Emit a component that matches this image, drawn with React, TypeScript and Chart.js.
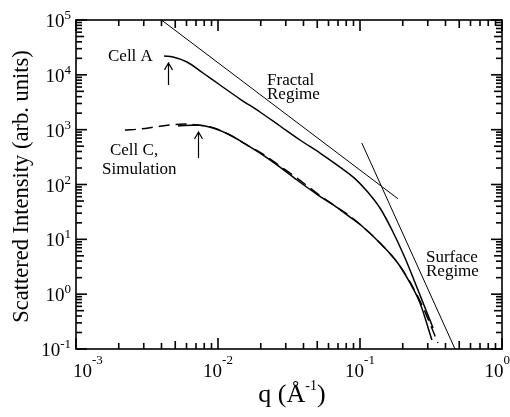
import React, { useEffect, useRef } from "react";
import { Chart, registerables } from "chart.js";

Chart.register(...registerables);

// ---------- data ----------
const cellAQ = [0.00417, 0.00482, 0.00605, 0.00784, 0.01033, 0.01429, 0.01976, 0.02733, 0.0378, 0.0523, 0.0723, 0.0922, 0.1138, 0.1383, 0.168, 0.2075, 0.256, 0.327];
const cellAI = [22000, 21100, 17140, 10800, 6523, 3624, 2100, 1166, 648, 375, 208, 128, 72, 37.3, 14.8, 4.56, 1.19, 0.241];

const cellCQ = [0.00523, 0.00711, 0.00922, 0.01215, 0.016, 0.02075, 0.02733, 0.036, 0.0506, 0.0667, 0.085, 0.105, 0.1383, 0.1822, 0.225, 0.2646, 0.321];
const cellCI = [1166, 1216, 1072, 799, 525, 345, 208, 120.8, 64.3, 40.5, 25.5, 16.8, 8.57, 3.86, 1.6, 0.69, 0.146];

const simQ = [0.00221, 0.00282, 0.0036, 0.00459, 0.00586, 0.00711, 0.00922, 0.01215, 0.016, 0.02075, 0.02733, 0.036, 0.0506, 0.0667, 0.085, 0.105, 0.1383, 0.1822, 0.225, 0.273, 0.354];
const simI = [986, 1028, 1118, 1216, 1269, 1216, 1090, 799, 525, 360, 217, 131, 67, 40.5, 26.6, 16.8, 8.57, 3.86, 1.67, 0.634, 0.1285];

const fractalQ = [0.004, 0.185];
const fractalI = [100000, 55];

const surfaceQ = [0.103, 0.467];
const surfaceI = [572, 0.1];

const xExponents = [-3, -2, -1, 0];
const yExponents = [-1, 0, 1, 2, 3, 4, 5];
const minorMultipliers = [1, 2, 3, 4, 5, 6, 7, 8, 9];

const xTitleMain = "q (Å";
const xTitleSup = "-1";
const xTitleEnd = ")";
const yTitle = "Scattered Intensity (arb. units)";

const labelTexts = ["Cell A", "Cell C,", "Simulation", "Fractal", "Regime", "Surface", "Regime"];
const labelQ = [0.00168, 0.001735, 0.001524, 0.02214, 0.02214, 0.2916, 0.2916];
const labelI = [17870, 345, 155, 6520, 3624, 3.86, 2.14];

const arrowQ = [0.00445, 0.00723];
const arrowTopI = [16500, 906];
const arrowBottomI = [6500, 304];

// ---------- helpers ----------
const SERIF = '"Liberation Serif", "Times New Roman", serif';
const zip = (xs: number[], ys: number[]) => xs.map((x, i) => ({ x, y: ys[i] }));

function tickValues(exps: number[]): number[] {
  const out: number[] = [];
  const last = exps[exps.length - 1];
  exps.forEach((e) => {
    minorMultipliers.forEach((m) => {
      if (e === last && m > 1) return;
      out.push(m * Math.pow(10, e));
    });
  });
  return out;
}

function tickLen(v: number): number {
  const m = Math.round(v / Math.pow(10, Math.floor(Math.log10(v) + 1e-9)));
  return m === 1 ? 11 : m === 5 ? 8 : 6;
}

function drawPower(
  ctx: CanvasRenderingContext2D,
  exp: string,
  x: number,
  y: number,
  anchor: "center" | "right",
  rise: number,
  minX: number,
  maxX: number
) {
  ctx.font = `19px ${SERIF}`;
  const wb = ctx.measureText("10").width;
  ctx.font = `13px ${SERIF}`;
  const we = ctx.measureText(exp).width;
  const total = wb + we;
  let x0 = anchor === "center" ? x - total / 2 : x - total;
  x0 = Math.max(minX, Math.min(maxX - total, x0));
  ctx.textAlign = "left";
  ctx.textBaseline = "alphabetic";
  ctx.font = `19px ${SERIF}`;
  ctx.fillText("10", x0, y);
  ctx.font = `13px ${SERIF}`;
  ctx.fillText(exp, x0 + wb, y - rise);
}

const decorPlugin = {
  id: "decor",
  afterDraw(chart: any) {
    const ctx: CanvasRenderingContext2D = chart.ctx;
    const xs = chart.scales.x;
    const ys = chart.scales.y;
    const area = chart.chartArea;
    const left = area.left;
    const right = area.right;
    const top = area.top;
    const bottom = area.bottom;
    ctx.save();
    ctx.setLineDash([]);
    ctx.strokeStyle = "#000000";
    ctx.fillStyle = "#000000";

    // frame
    ctx.lineWidth = 1.6;
    ctx.strokeRect(left, top, right - left, bottom - top);

    // ticks (inward, all four sides)
    tickValues(xExponents).forEach((v) => {
      const px = xs.getPixelForValue(v);
      const l = tickLen(v);
      ctx.fillRect(px - 0.8, bottom - l, 1.6, l);
      ctx.fillRect(px - 0.8, top, 1.6, l);
    });
    tickValues(yExponents).forEach((v) => {
      const py = ys.getPixelForValue(v);
      const l = tickLen(v);
      ctx.fillRect(left, py - 0.8, l, 1.6);
      ctx.fillRect(right - l, py - 0.8, l, 1.6);
    });

    // tick labels
    xExponents.forEach((e) => {
      const px = xs.getPixelForValue(Math.pow(10, e));
      drawPower(ctx, String(e), px, bottom + 28, "center", 13, left - 3, chart.width);
    });
    yExponents.forEach((e) => {
      const py = ys.getPixelForValue(Math.pow(10, e));
      drawPower(ctx, String(e), left - 5, py + 7, "right", 8, 0, chart.width);
    });

    // x title
    ctx.textBaseline = "alphabetic";
    ctx.textAlign = "left";
    ctx.font = `26px ${SERIF}`;
    const w1 = ctx.measureText(xTitleMain).width;
    const w3 = ctx.measureText(xTitleEnd).width;
    ctx.font = `14px ${SERIF}`;
    const w2 = ctx.measureText(xTitleSup).width;
    const cx = (left + right) / 2 + 3;
    const x0 = cx - (w1 + w2 + w3) / 2;
    const by = bottom + 53;
    ctx.font = `26px ${SERIF}`;
    ctx.fillText(xTitleMain, x0, by);
    ctx.font = `14px ${SERIF}`;
    ctx.fillText(xTitleSup, x0 + w1, by - 12);
    ctx.font = `26px ${SERIF}`;
    ctx.fillText(xTitleEnd, x0 + w1 + w2, by);

    // y title
    ctx.save();
    ctx.translate(22, (top + bottom) / 2 + 2);
    ctx.rotate(-Math.PI / 2);
    ctx.textAlign = "center";
    ctx.textBaseline = "middle";
    ctx.font = `22.5px ${SERIF}`;
    ctx.fillText(yTitle, 0, 0);
    ctx.restore();

    // annotations
    ctx.font = `17px ${SERIF}`;
    ctx.textAlign = "left";
    ctx.textBaseline = "alphabetic";
    labelTexts.forEach((t, i) => {
      ctx.fillText(t, xs.getPixelForValue(labelQ[i]), ys.getPixelForValue(labelI[i]));
    });

    // arrows
    ctx.lineWidth = 1.2;
    arrowQ.forEach((q, i) => {
      const ax = Math.round(xs.getPixelForValue(q)) + 0.5;
      const yt = ys.getPixelForValue(arrowTopI[i]);
      const yb = ys.getPixelForValue(arrowBottomI[i]);
      ctx.beginPath();
      ctx.moveTo(ax, yb);
      ctx.lineTo(ax, yt);
      ctx.moveTo(ax - 4, yt + 7);
      ctx.lineTo(ax, yt);
      ctx.lineTo(ax + 4, yt + 7);
      ctx.stroke();
    });

    ctx.restore();
  },
};

export default function App() {
  const canvasRef = useRef<HTMLCanvasElement | null>(null);

  useEffect(() => {
    const canvas = canvasRef.current;
    if (!canvas) return;
    const line = (data: { x: number; y: number }[], width: number, dash: number[] = []) => ({
      data,
      borderColor: "#000",
      backgroundColor: "#000",
      borderWidth: width,
      borderDash: dash,
      showLine: true,
      pointRadius: 0,
      pointHoverRadius: 0,
      fill: false,
      cubicInterpolationMode: "monotone" as const,
    });
    const chart = new Chart(canvas, {
      type: "scatter",
      data: {
        datasets: [
          line(zip(fractalQ, fractalI), 1),
          line(zip(surfaceQ, surfaceI), 1),
          line(zip(cellAQ, cellAI), 1.5),
          line(zip(cellCQ, cellCI), 1.5),
          line(zip(simQ, simI), 1.4, [11, 6]),
        ],
      },
      options: {
        animation: false,
        responsive: false,
        devicePixelRatio: 1,
        events: [],
        layout: { padding: { top: 20, right: 8, left: 0, bottom: 0 } },
        plugins: { legend: { display: false }, tooltip: { enabled: false }, title: { display: false } },
        scales: {
          x: {
            type: "logarithmic",
            min: 0.001,
            max: 1,
            grid: { display: false },
            border: { display: false },
            ticks: { display: false },
            afterFit: (s: any) => {
              s.height = 68;
            },
          },
          y: {
            type: "logarithmic",
            min: 0.1,
            max: 100000,
            grid: { display: false },
            border: { display: false },
            ticks: { display: false },
            afterFit: (s: any) => {
              s.width = 76;
            },
          },
        },
      },
      plugins: [decorPlugin],
    });
    return () => chart.destroy();
  }, []);

  return (
    <div style={{ position: "absolute", left: 0, top: 0, width: 510, height: 417, background: "#fff" }}>
      <canvas ref={canvasRef} width={510} height={417} style={{ width: 510, height: 417, display: "block" }} />
    </div>
  );
}
